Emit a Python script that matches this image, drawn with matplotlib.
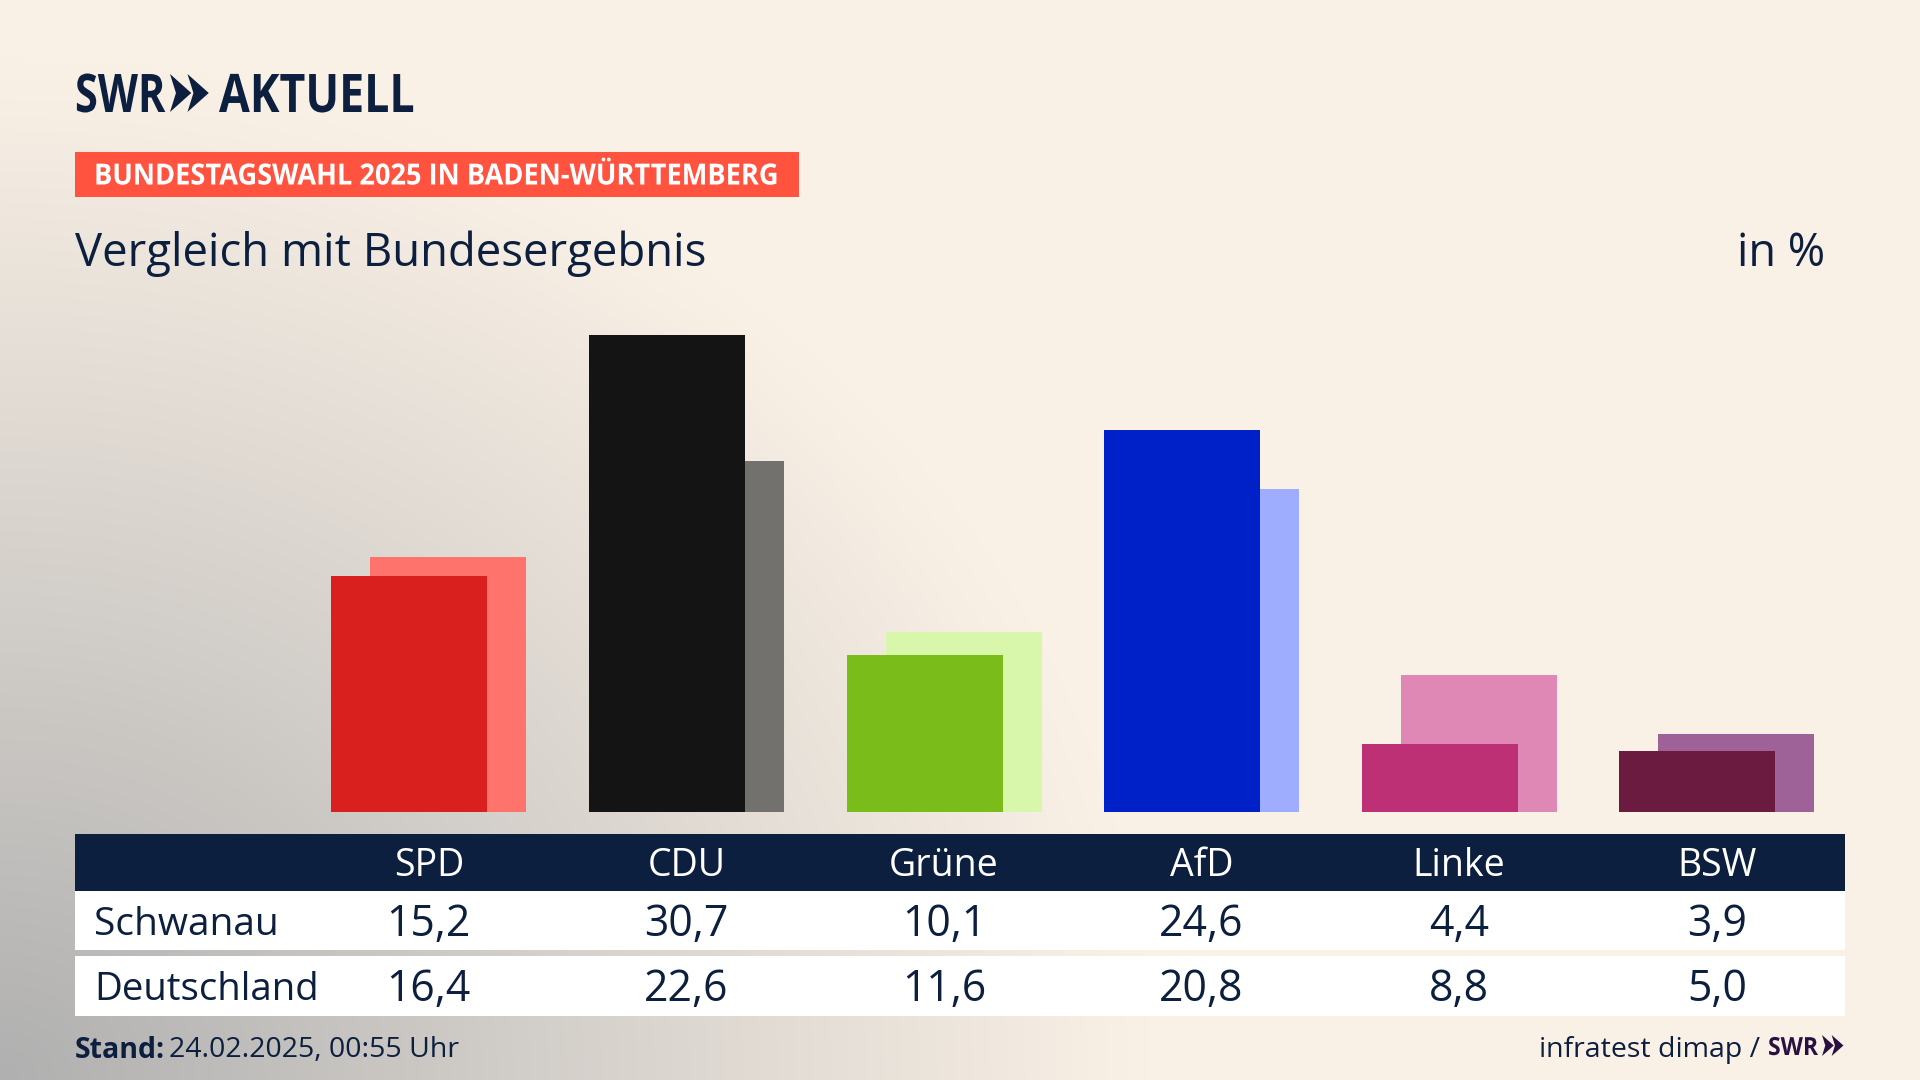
import numpy as np
import matplotlib
matplotlib.use("Agg")
import matplotlib.pyplot as plt
from matplotlib.patches import Rectangle, Polygon
from matplotlib.patheffects import AbstractPathEffect
from matplotlib.transforms import Affine2D

parties = ["SPD", "CDU", "Grüne", "AfD", "Linke", "BSW"]
schwanau = [15.2, 30.7, 10.1, 24.6, 4.4, 3.9]
deutschland = [16.4, 22.6, 11.6, 20.8, 8.8, 5.0]
dark_colors = ["#d9201e", "#141414", "#7abd1a", "#0020c8", "#bd3075", "#6b1a40"]
light_colors = ["#ff736d", "#73716d", "#d9f7ab", "#9fadff", "#df88b6", "#9e6198"]

NAVY = "#0c1f3f"
W, H = 1920, 1080
FONT = "Open Sans"

# layout in pixels
table_l, table_r = 75, 1845
first_col, col_step = 428.8, 257.6
base_y, px_per_pct = 812, 15.53

fig = plt.figure(figsize=(19.2, 10.8), dpi=100)

# background + all the text, in pixel coordinates
bg = fig.add_axes([0, 0, 1, 1])
yy, xx = np.mgrid[0:H:270j, 0:W:480j]
d = np.sqrt((xx / 1150) ** 2 + ((H - yy) / 1020) ** 2)
t = np.clip(d, 0, 1)
grey = np.array([176, 176, 176]) / 255
cream = np.array([250, 241, 230]) / 255
img = grey + (cream - grey) * t[..., None]
bg.imshow(img, extent=(0, W, H, 0), aspect="auto", interpolation="bilinear")
bg.set_xlim(0, W)
bg.set_ylim(H, 0)
bg.axis("off")


class Squeeze(AbstractPathEffect):
    # narrows the glyphs around x0, no condensed font is installed
    def __init__(self, x0, sx):
        super().__init__()
        self.x0 = x0
        self.sx = sx

    def draw_path(self, renderer, gc, tpath, affine, rgbFace=None):
        narrow = Affine2D().translate(-self.x0, 0).scale(self.sx, 1).translate(self.x0, 0)
        renderer.draw_path(gc, tpath, affine + narrow, rgbFace)


def narrow_text(x, y, s, sx, **kw):
    bg.text(x, y, s, family=FONT, weight="bold", ha="left", path_effects=[Squeeze(x, sx)], **kw)


def chevrons(x, y, h, color):
    # the two arrows of the SWR logo
    w = h * 0.56
    for dx in (0, h * 0.46):
        pts = [(x + dx, y), (x + dx + w, y + h / 2), (x + dx, y + h), (x + dx + w * 0.28, y + h / 2)]
        bg.add_patch(Polygon(pts, closed=True, fc=color, ec="none"))


# logo
narrow_text(75, 112, "SWR", 0.78, size=38.3, color=NAVY, va="baseline")
chevrons(170, 74, 38, NAVY)
narrow_text(219, 112, "AKTUELL", 0.84, size=38.3, color=NAVY, va="baseline")

# tag line
bg.add_patch(Rectangle((75, 152), 724, 45, fc="#ff5340", ec="none"))
narrow_text(94, 177, "BUNDESTAGSWAHL 2025 IN BADEN-WÜRTTEMBERG", 0.933, size=21, color="white", va="center")

# title
bg.text(75, 254, "Vergleich mit Bundesergebnis", family=FONT, size=32.8, color=NAVY,
        va="center", ha="left")
bg.text(1825, 254, "in %", family=FONT, size=32.5, color=NAVY, va="center", ha="right")

# table
bg.add_patch(Rectangle((table_l, 834), table_r - table_l, 57, fc=NAVY, ec="none"))
bg.add_patch(Rectangle((table_l, 891), table_r - table_l, 59, fc="white", ec="none"))
bg.add_patch(Rectangle((table_l, 956), table_r - table_l, 60, fc="white", ec="none"))
bg.text(94, 925, "Schwanau", family=FONT, size=28, color=NAVY, va="center", ha="left")
bg.text(94, 990, "Deutschland", family=FONT, size=27.6, color=NAVY, va="center", ha="left")
for i, party in enumerate(parties):
    cx = first_col + i * col_step
    bg.text(cx, 866, party, family=FONT, size=27, color="white", va="center", ha="center")
    bg.text(cx, 925, f"{schwanau[i]:.1f}".replace(".", ","), family=FONT, size=30.8,
            color=NAVY, va="center", ha="center")
    bg.text(cx, 990, f"{deutschland[i]:.1f}".replace(".", ","), family=FONT, size=30.8,
            color=NAVY, va="center", ha="center")

# footer
bg.text(75, 1050, "Stand:", family=FONT, weight="bold", size=20.5, color=NAVY, va="center", ha="left")
bg.text(169, 1050, "24.02.2025, 00:55 Uhr", family=FONT, size=20.5, color=NAVY, va="center", ha="left")
bg.text(1760, 1050, "infratest dimap /", family=FONT, size=20.5, color=NAVY, va="center", ha="right")
narrow_text(1768, 1055, "SWR", 0.92, size=18, color="#2a1040", va="baseline")
chevrons(1822, 1035, 21, "#2a1040")

# bars, with their own value scale
top_y = 300
ax = fig.add_axes([table_l / W, 1 - base_y / H, (table_r - table_l) / W, (base_y - top_y) / H])
ax.patch.set_alpha(0)
ax.set_xlim((table_l - first_col) / col_step, (table_r - first_col) / col_step)
ax.set_ylim(0, (base_y - top_y) / px_per_pct)
ax.axis("off")

x = np.arange(len(parties))
bar_w = 156 / col_step
offset = 19.5 / col_step
ax.bar(x + offset, deutschland, bar_w, color=light_colors)
ax.bar(x - offset, schwanau, bar_w, color=dark_colors)

fig.savefig("out.png", dpi=100)
